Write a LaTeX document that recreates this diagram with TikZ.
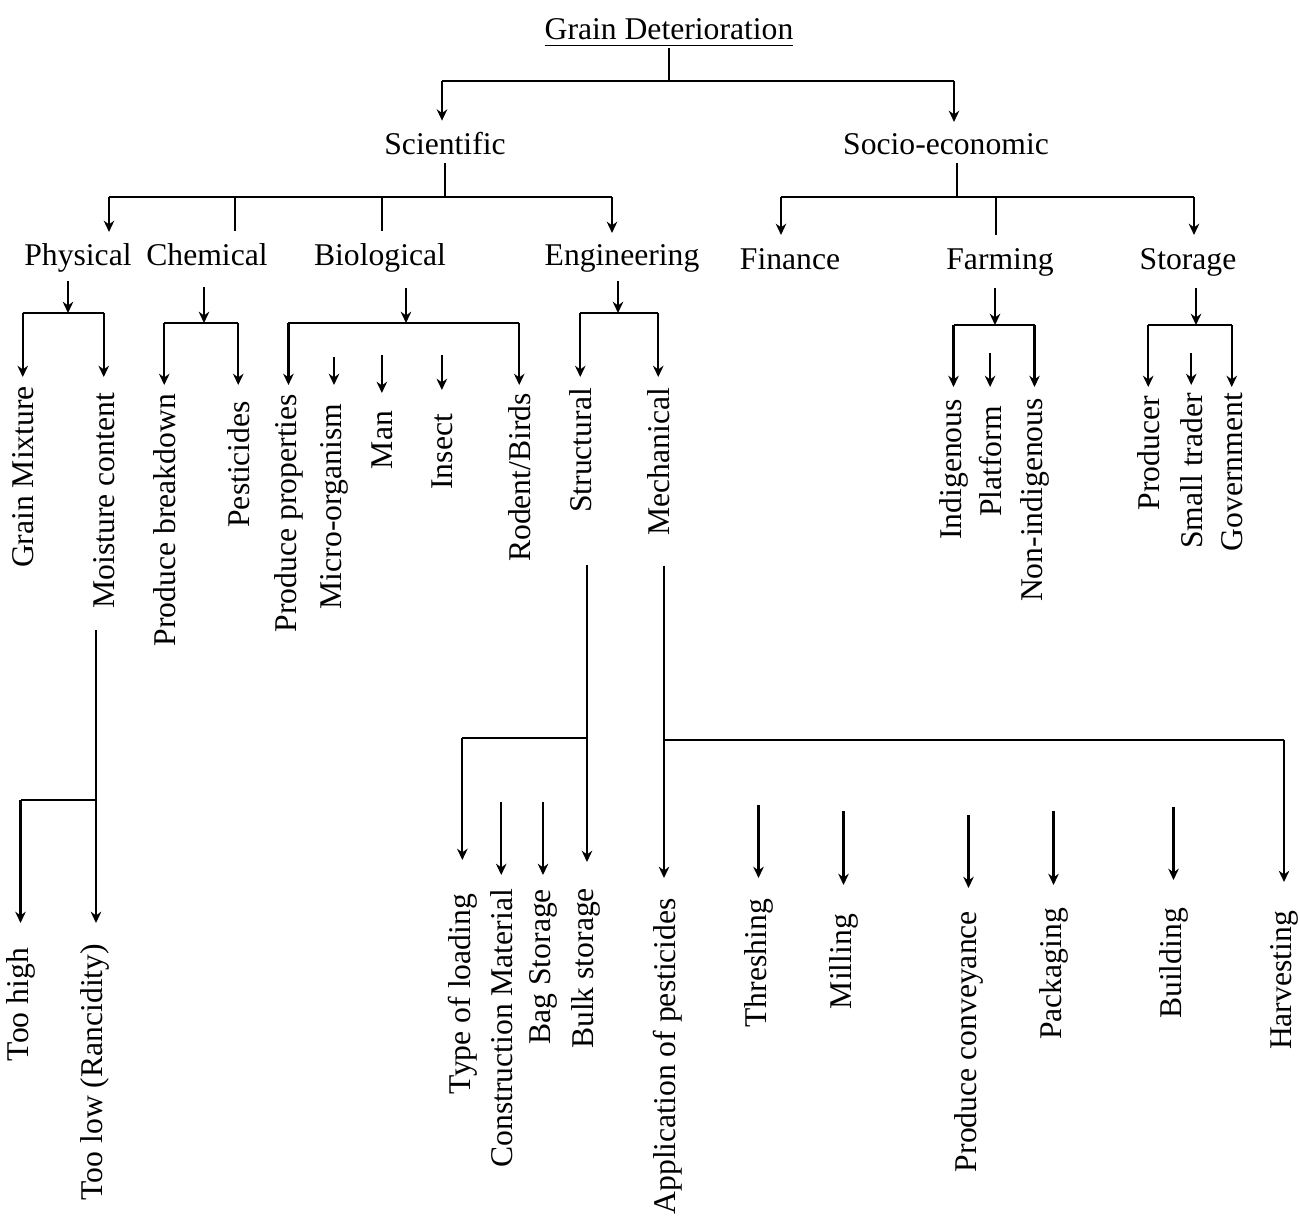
\documentclass[tikz,border=0pt]{standalone}
\usepackage{fontspec}
\setmainfont{Liberation Serif}
\usetikzlibrary{arrows.meta}

\tikzset{
  hlbl/.style={inner sep=2pt, anchor=base},
  vlbl/.style={inner sep=0pt, anchor=mid east, rotate=90},
  arr/.style={-{Stealth[length=3.2pt,width=3pt]}, shorten >=0.4mm},
}

\begin{document}
\begin{tikzpicture}[x=0.01cm, y=-0.01cm, line width=0.6pt, font=\fontsize{9}{11}\selectfont]
    \useasboundingbox (0,0) rectangle (1300,1231);

    % Title and the two main branches
    \node[hlbl, inner sep=0pt] (gd) at (669,40) {\underline{Grain Deterioration}};
    \node[hlbl] (sci) at (445,155) {Scientific};
    \node[hlbl] (soc) at (946,155) {Socio-economic};

    % Second level
    \node[hlbl] (phy) at (78,266) {Physical};
    \node[hlbl] (chem) at (207,266) {Chemical};
    \node[hlbl] (bio) at (380,266) {Biological};
    \node[hlbl] (eng) at (622,266) {Engineering};
    \node[hlbl] (fin) at (790,270) {Finance};
    \node[hlbl] (farm) at (1000,270) {Farming};
    \node[hlbl] (stor) at (1188,270) {Storage};

    % Third level (rotated)
    \node[vlbl] (gm) at (25,385) {Grain Mixture};
    \node[vlbl] (mc) at (106,392) {Moisture content};
    \node[vlbl] (pbd) at (167,393) {Produce breakdown};
    \node[vlbl] (pest) at (241,400) {Pesticides};
    \node[vlbl] (pp) at (288,393) {Produce properties};
    \node[vlbl] (mo) at (333,403) {Micro-organism};
    \node[vlbl] (man) at (384,410) {Man};
    \node[vlbl] (ins) at (444,413) {Insect};
    \node[vlbl] (rb) at (522,392) {Rodent/Birds};
    \node[vlbl] (str) at (583,387) {Structural};
    \node[vlbl] (mech) at (661,387) {Mechanical};
    \node[vlbl] (ind) at (953,398) {Indigenous};
    \node[vlbl] (plat) at (993,405) {Platform};
    \node[vlbl] (nind) at (1034,397) {Non-indigenous};
    \node[vlbl] (prod) at (1151,395) {Producer};
    \node[vlbl] (st) at (1194,392) {Small trader};
    \node[vlbl] (gov) at (1234,392) {Government};

    % Fourth level (rotated)
    \node[vlbl] (th) at (20,947) {Too high};
    \node[vlbl] (tlow) at (94,943) {Too low (Rancidity)};
    \node[vlbl] (tol) at (462,893) {Type of loading};
    \node[vlbl] (cm) at (504,888) {Construction Material};
    \node[vlbl] (bags) at (542,888) {Bag Storage};
    \node[vlbl] (bulk) at (585,887) {Bulk storage};
    \node[vlbl] (app) at (667,897) {Application of pesticides};
    \node[vlbl] (thr) at (758,898) {Threshing};
    \node[vlbl] (mill) at (843,913) {Milling};
    \node[vlbl] (pc) at (968,910) {Produce conveyance};
    \node[vlbl] (pack) at (1053,907) {Packaging};
    \node[vlbl] (bld) at (1173,907) {Building};
    \node[vlbl] (harv) at (1283,910) {Harvesting};

    % Title bracket
    \coordinate (tl) at (442,81);
    \coordinate (tr) at (954,81);
    \draw (gd.south) -- (gd.south |- tl);
    \draw (tl) -- (tr);
    \draw[arr] (tl) -- (tl |- sci.north);
    \draw[arr] (tr) -- (tr |- soc.north);

    % Scientific bracket
    \coordinate (sl) at (109,197);
    \coordinate (sc) at (235,197);
    \coordinate (sb) at (382,197);
    \coordinate (sr) at (612,197);
    \draw (sci.south) -- (sci.south |- sl);
    \draw (sl) -- (sr);
    \draw[arr] (sl) -- (sl |- phy.north);
    \draw[shorten >=0.5mm] (sc) -- (sc |- chem.north);
    \draw[shorten >=0.5mm] (sb) -- (sb |- bio.north);
    \draw[arr] (sr) -- (sr |- eng.north);

    % Socio-economic bracket
    \coordinate (el) at (781,197);
    \coordinate (es) at (957,197);
    \coordinate (em) at (996,197);
    \coordinate (er) at (1194,197);
    \draw (es |- soc.south) -- (es);
    \draw (el) -- (er);
    \draw[arr, shorten >=0.6mm] (el) -- (el |- fin.north);
    \draw[shorten >=0.6mm] (em) -- (em |- farm.north);
    \draw[arr, shorten >=0.6mm] (er) -- (er |- stor.north);

    % Physical
    \coordinate (pj) at (68,313);
    \draw[arr, shorten >=0pt] (phy.south -| pj) -- (pj);
    \draw (gm.east |- pj) -- (mc.east |- pj);
    \draw[arr, shorten >=0.8mm] (gm.east |- pj) -- (gm.east);
    \draw[arr, shorten >=1.5mm] (mc.east |- pj) -- (mc.east);

    % Chemical
    \coordinate (cj) at (204,323);
    \draw[arr, shorten <=1.3mm, shorten >=0pt] (chem.south -| cj) -- (cj);
    \draw (pbd.east |- cj) -- (pest.east |- cj);
    \draw[arr, shorten >=0.8mm] (pbd.east |- cj) -- (pbd.east);
    \draw[arr, shorten >=1.5mm] (pest.east |- cj) -- (pest.east);

    % Biological
    \coordinate (bj) at (406,323);
    \draw[arr, shorten <=0.7mm, shorten >=0pt] (bio.south -| bj) -- (bj);
    \draw (pp.east |- bj) -- (rb.east |- bj);
    \draw[arr, shorten >=0.8mm] (pp.east |- bj) -- (pp.east);
    \draw[arr, shorten >=0.7mm] (rb.east |- bj) -- (rb.east);
    \draw[arr, shorten >=1.8mm] (mo.east) ++(0,-46) -- (mo.east);
    \draw[arr, shorten >=1.7mm] (man.east) ++(0,-55) -- (man.east);
    \draw[arr, shorten >=2.3mm] (ins.east) ++(0,-58) -- (ins.east);

    % Engineering
    \coordinate (ej) at (618,313);
    \draw[arr, shorten >=0pt] (eng.south -| ej) -- (ej);
    \draw (str.east |- ej) -- (mech.east |- ej);
    \draw[arr, shorten >=1mm] (str.east |- ej) -- (str.east);
    \draw[arr, shorten >=1mm] (mech.east |- ej) -- (mech.east);

    % Farming
    \coordinate (fj) at (995,325);
    \draw[arr, shorten <=0.3mm, shorten >=0pt] (farm.south -| fj) -- (fj);
    \draw (ind.east |- fj) -- (nind.east |- fj);
    \draw[arr, shorten >=1.1mm] (ind.east |- fj) -- (ind.east);
    \draw[arr, shorten >=1mm] (nind.east |- fj) -- (nind.east);
    \draw[arr, shorten >=1.8mm] (plat.east) ++(0,-52) -- (plat.east);

    % Storage
    \coordinate (gj) at (1196,325);
    \draw[arr, shorten <=0.3mm, shorten >=0pt] (stor.south -| gj) -- (gj);
    \draw (prod.east |- gj) -- (gov.east |- gj);
    \draw[arr, shorten >=0.8mm] (prod.east |- gj) -- (prod.east);
    \draw[arr, shorten >=0.5mm] (gov.east |- gj) -- (gov.east);
    \draw[arr, shorten >=0.7mm] (st.east) ++(0,-39) -- (st.east);

    % Moisture content
    \coordinate (mj) at (96,800);
    \draw[shorten <=2.1mm] (mc.west -| mj) -- (mj);
    \draw (mj) -- (th.east |- mj);
    \draw[arr, shorten >=2.4mm] (th.east |- mj) -- (th.east);
    \draw[arr, shorten >=2mm] (mj) -- (mj |- tlow.east);

    % Structural
    \coordinate (sj) at (587,738);
    \draw[shorten <=5.1mm] (str.west -| sj) -- (sj);
    \draw (sj) -- (tol.east |- sj);
    \draw[arr, shorten >=3.3mm] (tol.east |- sj) -- (tol.east);
    \draw[arr, shorten >=2.5mm] (sj) -- (sj |- bulk.east);
    \draw[arr, shorten >=1.3mm] (cm.east) ++(0,-86) -- (cm.east);
    \draw[arr, shorten >=1.3mm] (bags.east) ++(0,-86) -- (bags.east);

    % Mechanical
    \coordinate (hj) at (664,740);
    \draw[shorten <=2.9mm] (mech.west -| hj) -- (hj);
    \draw[arr, shorten >=1.9mm] (hj) -- (hj |- app.east);
    \draw (hj) -- (harv.east |- hj);
    \draw[arr, shorten >=2.8mm] (harv.east |- hj) -- (harv.east);
    \draw[arr, shorten >=2mm] (thr.east) ++(0,-93) -- (thr.east);
    \draw[arr, shorten >=2.8mm] (mill.east) ++(0,-102) -- (mill.east);
    \draw[arr, shorten >=2.2mm] (pc.east) ++(0,-95) -- (pc.east);
    \draw[arr, shorten >=2.2mm] (pack.east) ++(0,-96) -- (pack.east);
    \draw[arr, shorten >=2.7mm] (bld.east) ++(0,-100) -- (bld.east);
\end{tikzpicture}
\end{document}
